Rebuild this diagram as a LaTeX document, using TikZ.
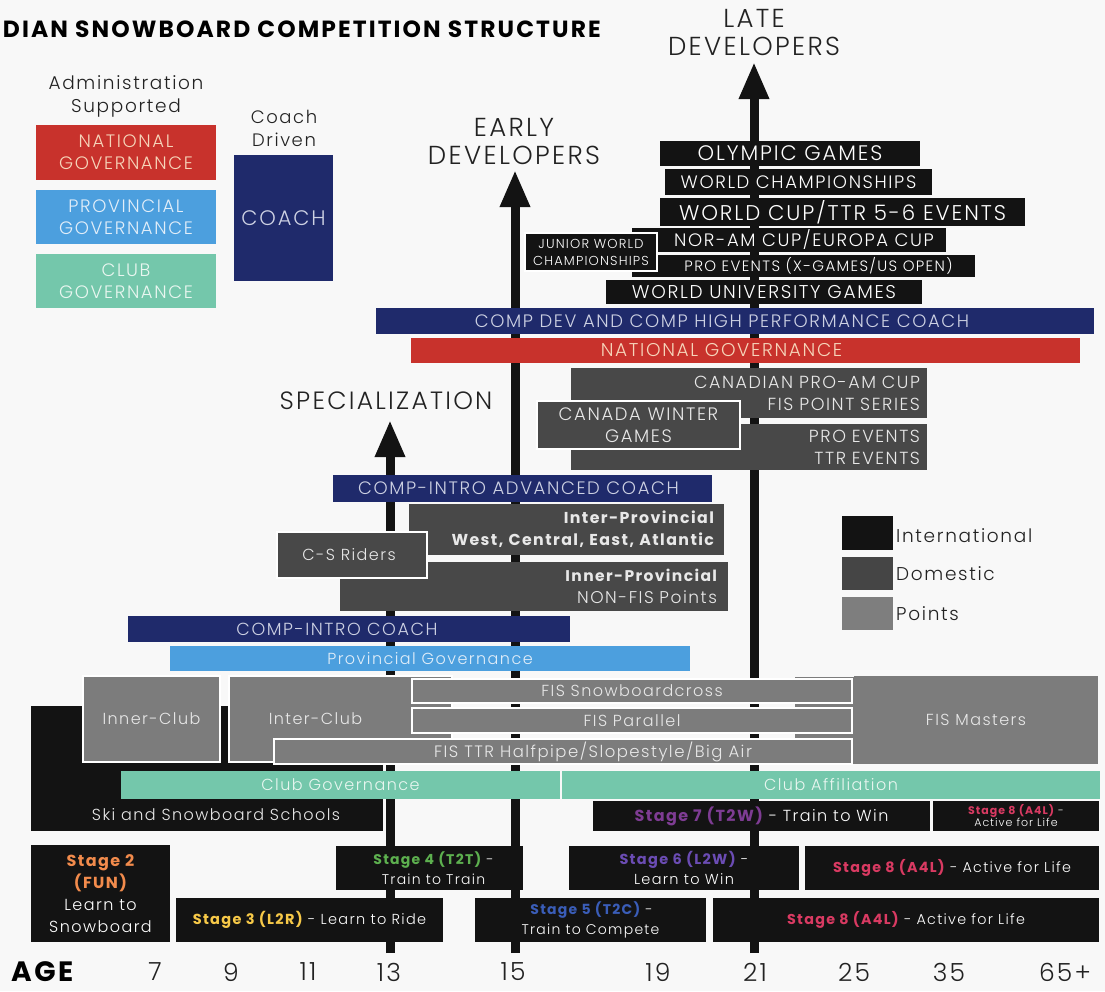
\documentclass[tikz,border=0pt]{standalone}
\usepackage{fontspec}
\IfFontExistsTF{Poppins Light}{%
  \IfFontExistsTF{Poppins Bold}{\setmainfont{Poppins Light}[BoldFont={Poppins Bold},LetterSpace=9]}{\setmainfont{Poppins}[LetterSpace=9]}%
}{\setmainfont{Poppins}[LetterSpace=9]}
\usetikzlibrary{arrows.meta}
\newcommand\fs[2]{\fontsize{#1}{#2}\selectfont}
\definecolor{bgc}{HTML}{F8F8F8}
\definecolor{navy}{HTML}{1F2A6B}
\definecolor{natred}{HTML}{C8322C}
\definecolor{provblue}{HTML}{4C9FDE}
\definecolor{clubteal}{HTML}{74C7AB}
\definecolor{intl}{HTML}{131313}
\definecolor{dom}{HTML}{484848}
\definecolor{pts}{HTML}{7C7C7C}
\definecolor{lgdom}{HTML}{454545}
\definecolor{lgpts}{HTML}{7E7E7E}
\definecolor{navytxt}{HTML}{CDD1E3}
\definecolor{redtxt}{HTML}{F6D5BA}
\definecolor{bluetxt}{HTML}{E2EEF9}
\definecolor{tealtxt}{HTML}{E9F6F0}
\definecolor{graytxt}{HTML}{E8E8E8}
\definecolor{inktxt}{HTML}{222222}
\definecolor{stwo}{HTML}{F28B4C}
\definecolor{sthree}{HTML}{F7C948}
\definecolor{sfour}{HTML}{5DB04F}
\definecolor{sfive}{HTML}{3A5DB8}
\definecolor{ssix}{HTML}{6B4CB4}
\definecolor{sseven}{HTML}{7E3C93}
\definecolor{seight}{HTML}{D93A62}
\newcommand\bx[7][]{%
 \pgfmathsetmacro\mybw{#5-#3}\pgfmathsetmacro\mybh{#6-#4}%
 \pgfmathsetmacro\mycx{(#3+#5)/2}\pgfmathsetmacro\mycy{(#4+#6)/2}%
 \node[boxbase,minimum width=\mybw pt,minimum height=\mybh pt,#1] (#2) at (\mycx,\mycy) {#7};}
\newcommand\bxr[7][]{%
 \pgfmathsetmacro\mybw{#5-#3}\pgfmathsetmacro\mybh{#6-#4}%
 \pgfmathsetmacro\mytw{#5-#3-14}%
 \pgfmathsetmacro\mycx{(#3+#5)/2}\pgfmathsetmacro\mycy{(#4+#6)/2}%
 \node[boxbase,minimum width=\mybw pt,minimum height=\mybh pt,text width=\mytw pt,align=right,#1] (#2) at (\mycx,\mycy) {#7};}
\tikzset{
 boxbase/.style={rectangle,inner sep=0pt,outer sep=0pt,draw=none},
 wb/.style={draw=white,line width=2pt},
 intlbox/.style={fill=intl,text=white},
 navybox/.style={fill=navy,text=navytxt},
 dombox/.style={fill=dom,text=graytxt},
 ptsbox/.style={fill=pts,text=graytxt},
 tealbox/.style={fill=clubteal,text=tealtxt},
 bluebox/.style={fill=provblue,text=bluetxt},
 redbox/.style={fill=natred,text=redtxt},
 stagebox/.style={fill=intl,text=white,align=center},
 lbl/.style={inner sep=0pt,text=inktxt,align=center},
 devarrow/.style={line width=9pt,draw=intl,-{Triangle[width=28pt,length=37pt]}},
}
\begin{document}
\begin{tikzpicture}[x=1pt,y=-1pt]
\useasboundingbox (0,0) rectangle (1105,991);
\fill[bgc] (0,0) rectangle (1105,991);
% title
\node[lbl,anchor=east,font=\bfseries\fs{23.4}{28},text=black] (title) at (601,29) {DIAN SNOWBOARD COMPETITION STRUCTURE};
% legend left
\node[lbl,font=\fs{18.5}{23}] (adm) at (126,96) {Administration\\Supported};
\bx[redbox,align=center,font=\fs{18}{22}]{lnat}{36}{125}{216}{180}{NATIONAL\\GOVERNANCE}
\bx[bluebox,align=center,font=\fs{18}{22}]{lprov}{36}{190}{216}{244}{PROVINCIAL\\GOVERNANCE}
\bx[tealbox,align=center,font=\fs{18}{22}]{lclub}{36}{254}{216}{308}{CLUB\\GOVERNANCE}
\node[lbl,font=\fs{18}{23}] (cdr) at (284,128) {Coach\\Driven};
\bx[navybox,font=\fs{21}{26}]{lcoach}{234}{155}{333}{281}{COACH}
% arrows
\coordinate (a13b) at (390,953); \coordinate (a13t) at (390,420);
\coordinate (a15b) at (515,953); \coordinate (a15t) at (515,170);
\coordinate (a21b) at (754,953); \coordinate (a21t) at (754,62);
\draw[devarrow] (a13b) -- (a13t);
\draw[devarrow] (a15b) -- (a15t);
\draw[devarrow] (a21b) -- (a21t);
\node[lbl,font=\fs{25}{28}] (spec) at (386,401) {SPECIALIZATION};
\node[lbl,font=\fs{26}{28}] (early) at (514,141) {EARLY\\DEVELOPERS};
\node[lbl,font=\fs{26}{28}] (late) at (754,32) {LATE\\DEVELOPERS};
% international top stack
\bx[intlbox,font=\fs{21}{24}]{og}{660}{141}{920}{166}{OLYMPIC GAMES}
\bx[intlbox,font=\fs{18}{20}]{wch}{665}{169}{932}{195}{WORLD CHAMPIONSHIPS}
\bx[intlbox,font=\fs{21.3}{24}]{wcup}{660}{198}{1025}{226}{WORLD CUP/TTR 5-6 EVENTS}
\bx[intlbox,font=\fs{18}{22}]{noram}{632}{228}{946}{252}{\hspace*{30pt}NOR-AM CUP/EUROPA CUP}
\bx[intlbox,font=\fs{15}{18}]{proev}{632}{255}{975}{277}{\hspace*{30pt}PRO EVENTS (X-GAMES/US OPEN)}
\bx[intlbox,wb,align=center,font=\fs{13}{17}]{jwc}{525}{233}{657}{271}{JUNIOR WORLD\\CHAMPIONSHIPS}
\bx[intlbox,font=\fs{18.5}{20}]{wug}{606}{280}{922}{304}{WORLD UNIVERSITY GAMES}
\bx[navybox,font=\fs{18}{20}]{cdhp}{376}{308}{1094}{334}{COMP DEV AND COMP HIGH PERFORMANCE COACH\hspace*{26pt}}
\bx[redbox,font=\fs{18.5}{20}]{natbar}{411}{338}{1080}{363}{NATIONAL GOVERNANCE\hspace*{48pt}}
% domestic
\bxr[dombox,font=\fs{17.5}{22}]{cpa}{571}{368}{927}{418}{CANADIAN PRO-AM CUP\\FIS POINT SERIES}
\bxr[dombox,font=\fs{17.5}{22}]{prottr}{571}{424}{927}{470}{PRO EVENTS\\TTR EVENTS}
\bx[dombox,wb,align=center,font=\fs{18}{22}]{cwg}{537}{401}{740}{449}{CANADA WINTER\\GAMES}
\bx[navybox,font=\fs{18}{20}]{cia}{333}{475}{712}{502}{COMP-INTRO ADVANCED COACH\hspace*{8pt}}
\bxr[dombox,font=\bfseries\fs{15.8}{22},text width=295pt]{interprov}{409}{504}{724}{555}{Inter-Provincial\\West, Central, East, Atlantic}
\bxr[dombox,font=\fs{17}{22},text width=366pt]{innerprov}{340}{562}{728}{611}{{\bfseries\fs{15.5}{22}Inner-Provincial}\\NON-FIS Points}
\bx[dombox,wb,font=\fs{16}{20}]{csr}{277}{532}{427}{578}{C-S Riders\hspace*{6pt}}
\bx[navybox,font=\fs{17.5}{20}]{cic}{128}{616}{570}{642}{COMP-INTRO COACH\hspace*{24pt}}
\bx[bluebox,font=\fs{16}{20}]{provgov}{170}{646}{690}{671}{Provincial Governance}
% points
\bx[intlbox,font=\fs{16}{20}]{skis}{31}{706}{383}{831}{}
\node[lbl,text=graytxt,font=\fs{16}{20}] (skist) at (216,815) {Ski and Snowboard Schools};
\bx[ptsbox,wb,font=\fs{16}{20}]{innerclub}{83}{676}{220}{762}{Inner-Club}
\bx[ptsbox,wb,font=\fs{16}{20}]{interclub}{229}{676}{452}{762}{Inter-Club\hspace*{50pt}}
\fill[pts] (795,677) rectangle (856,764);
\bx[ptsbox,font=\fs{16}{20}]{fismast}{854}{676}{1098}{764}{FIS Masters}
\bx[ptsbox,wb,font=\fs{16}{20}]{fissbx}{412}{679}{852}{703}{FIS Snowboardcross}
\bx[ptsbox,wb,font=\fs{16}{20}]{fispar}{412}{708}{852}{733}{FIS Parallel}
\bx[ptsbox,wb,font=\fs{16.5}{20}]{fisttr}{274}{739}{852}{764}{\hspace*{60pt}FIS TTR Halfpipe/Slopestyle/Big Air}
\bx[tealbox,font=\fs{16}{20}]{clubgov}{121}{771}{560}{799}{Club Governance}
\bx[tealbox,font=\fs{16}{20}]{clubaff}{562}{771}{1100}{799}{Club Affiliation}
% stages
\bx[stagebox,font=\fs{16}{20}]{st7}{593}{801}{930}{831}{{\color{sseven}\bfseries Stage 7 (T2W)} - Train to Win}
\bx[stagebox,font=\fs{11}{12}]{st8s}{933}{801}{1099}{831}{{\color{seight}\bfseries Stage 8 (A4L)} -\\Active for Life}
\bx[stagebox,font=\fs{16}{22}]{st2}{31}{845}{170}{942}{{\color{stwo}\bfseries Stage 2}\\{\color{stwo}\bfseries (FUN)}\\Learn to\\Snowboard}
\bx[stagebox,font=\fs{14.5}{20}]{st3}{176}{898}{443}{942}{{\color{sthree}\bfseries Stage 3 (L2R)} - Learn to Ride}
\bx[stagebox,font=\fs{14}{20}]{st4}{336}{846}{523}{890}{\hspace*{8pt}{\color{sfour}\bfseries Stage 4 (T2T)} -\\\hspace*{8pt}Train to Train}
\bx[stagebox,font=\fs{14}{20}]{st5}{475}{898}{706}{942}{\hspace*{2pt}{\color{sfive}\bfseries Stage 5 (T2C)} -\\Train to Compete}
\bx[stagebox,font=\fs{14.5}{20}]{st6}{569}{846}{799}{890}{{\color{ssix}\bfseries Stage 6 (L2W)} -\\Learn to Win}
\bx[stagebox,font=\fs{14.3}{20}]{st8a}{805}{846}{1099}{890}{{\color{seight}\bfseries Stage 8 (A4L)} - Active for Life}
\bx[stagebox,font=\fs{14.3}{20}]{st8b}{713}{898}{1099}{942}{{\color{seight}\bfseries Stage 8 (A4L)} - Active for Life}
% legend right
\bx[fill=intl]{lgi}{842}{516}{893}{550}{}
\bx[fill=lgdom]{lgd}{842}{557}{893}{590}{}
\bx[fill=lgpts]{lgp}{842}{597}{893}{630}{}
\node[lbl,anchor=west,font=\fs{18.5}{24}] (lgit) at (896,536) {International};
\node[lbl,anchor=west,font=\fs{18.5}{24}] (lgdt) at (896,574) {Domestic};
\node[lbl,anchor=west,font=\fs{18.5}{24}] (lgpt) at (896,614) {Points};
% age axis
\node[lbl,anchor=west,font=\bfseries\fs{28}{30},text=black] (age) at (11,972) {AGE};
\foreach \nm/\xx/\tlab in {a7/155/7,a9/231/9,a11/308/11,a13/389/13,a15/513/15,a19/658/19,a21/755/21,a25/854/25,a35/949/35,a65/1065/65+}
  \node[lbl,font=\fs{25}{28}] (\nm) at (\xx,972) {\tlab};
\end{tikzpicture}
\end{document}
